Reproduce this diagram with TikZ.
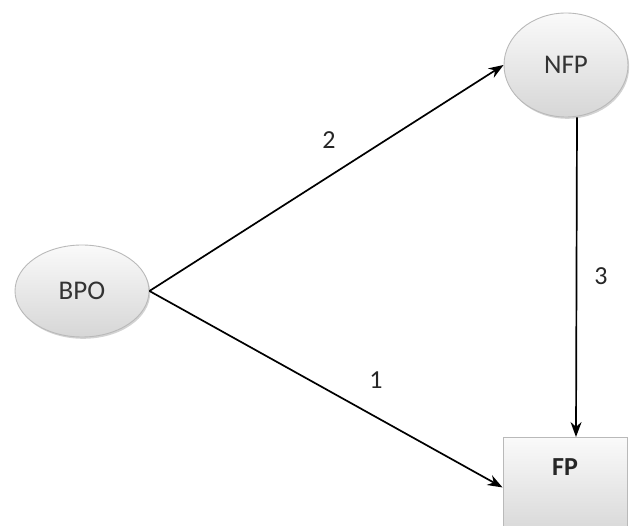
\documentclass[tikz,border=0pt]{standalone}
\usepackage{fontspec}
\setmainfont{Carlito}
\usetikzlibrary{arrows.meta,shadows,shapes.geometric}
\begin{document}
\begin{tikzpicture}[x=1pt,y=1pt,
  construct/.style={ellipse, draw=gray!55, line width=0.9pt,
    top color=gray!4, bottom color=gray!32,
    drop shadow={opacity=0.35, shadow xshift=1.2pt, shadow yshift=-1.8pt},
    font=\fontsize{27}{29}\selectfont, text=black!80},
  outcome/.style={rectangle, draw=gray!55, line width=0.9pt,
    top color=gray!4, bottom color=gray!32,
    drop shadow={opacity=0.35, shadow xshift=1.2pt, shadow yshift=-1.8pt},
    minimum width=124pt, minimum height=100pt, inner sep=0pt},
  link/.style={line width=1.7pt, -{Stealth[length=15pt,width=11pt]}},
  linklabel/.style={font=\fontsize{26}{28}\selectfont, text=black!85}]
\useasboundingbox (0,0) rectangle (630,-526);
% constructs
\node[construct, minimum width=134pt, minimum height=92pt] (bpo) at (82,-291) {BPO};
\node[construct, minimum width=124pt, minimum height=104pt] (nfp) at (566,-65) {NFP};
\node[outcome, anchor=north] (fp) at (565,-437) {};
\node[font=\fontsize{26}{28}\selectfont\bfseries, text=black!85] (fptext) at (565,-467) {FP};
% links
\draw[link] (bpo.east) -- (nfp.west);
\draw[link] (bpo.east) -- (fp.west);
\draw[link] ([xshift=11pt]nfp.south) -- ([xshift=11pt]fp.north);
% link numbers
\node[linklabel] (l2) at (329,-140) {2};
\node[linklabel] (l1) at (376,-380) {1};
\node[linklabel] (l3) at (601,-276) {3};
\end{tikzpicture}
\end{document}
